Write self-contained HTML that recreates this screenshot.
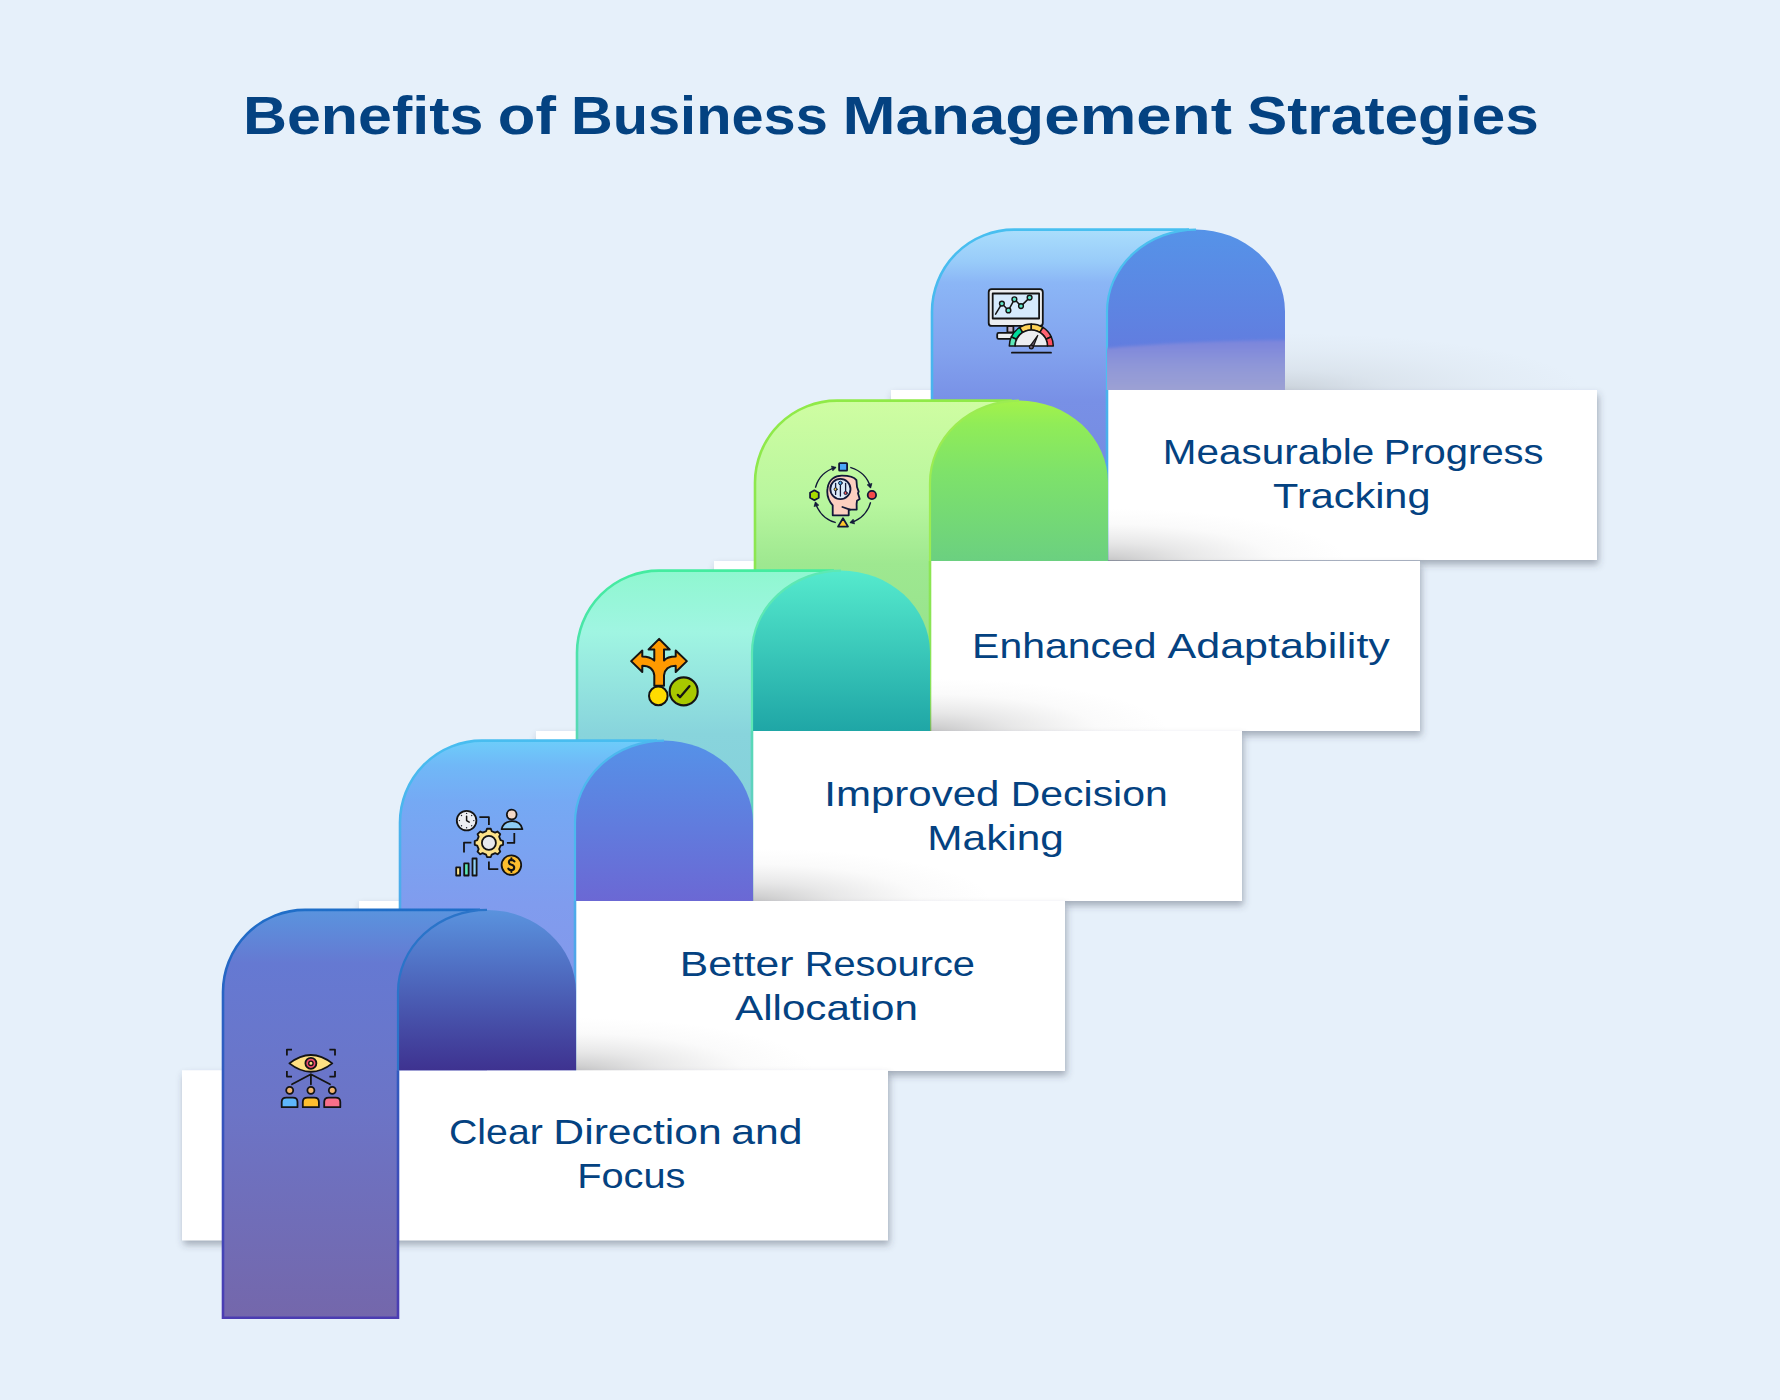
<!DOCTYPE html>
<html><head><meta charset="utf-8"><style>
html,body{margin:0;padding:0;background:#e6f0fa;}
body{width:1780px;height:1400px;overflow:hidden;font-family:"Liberation Sans",sans-serif;}
svg{display:block;}
</style></head><body>
<svg width="1780" height="1400" viewBox="0 0 1780 1400">
<defs>
<filter id="soft" x="-10%" y="-10%" width="120%" height="120%"><feGaussianBlur stdDeviation="1.6"/></filter>
<filter id="cardsh" x="-5%" y="-10%" width="110%" height="130%"><feDropShadow dx="1.5" dy="4.5" stdDeviation="3.8" flood-color="#394150" flood-opacity="0.38"/></filter>
<radialGradient id="upsh" cx="0" cy="1" r="1" gradientTransform="translate(0,0) scale(1,0.25)" gradientUnits="objectBoundingBox"><stop offset="0" stop-color="#7a8498" stop-opacity="0.42"/><stop offset="0.5" stop-color="#8a94a8" stop-opacity="0.12"/><stop offset="1" stop-color="#8a94a8" stop-opacity="0"/></radialGradient>
<linearGradient id="gloss" gradientUnits="userSpaceOnUse" x1="0" y1="340" x2="0" y2="390"><stop offset="0" stop-color="#7a84dc"/><stop offset="0.5" stop-color="#8e96d8"/><stop offset="1" stop-color="#9ca1d3"/></linearGradient>
<linearGradient id="colg0" gradientUnits="userSpaceOnUse" x1="0" y1="909.9" x2="0" y2="1317.7"><stop offset="0" stop-color="#5a94de"/><stop offset="0.13" stop-color="#6579d2"/><stop offset="0.5" stop-color="#6c74c6"/><stop offset="1" stop-color="#7467ab"/></linearGradient>
<linearGradient id="cols0" gradientUnits="userSpaceOnUse" x1="0" y1="909.9" x2="0" y2="1317.7"><stop offset="0" stop-color="#1f6ec8"/><stop offset="1" stop-color="#4b3cb2"/></linearGradient>
<linearGradient id="darkg0" gradientUnits="userSpaceOnUse" x1="0" y1="909.9" x2="0" y2="1070.3"><stop offset="0" stop-color="#5a93de"/><stop offset="0.35" stop-color="#5070c4"/><stop offset="1" stop-color="#3e3290"/></linearGradient>
<linearGradient id="colg1" gradientUnits="userSpaceOnUse" x1="0" y1="740.6" x2="0" y2="1148.4"><stop offset="0" stop-color="#6dcdfa"/><stop offset="0.06" stop-color="#70b8f7"/><stop offset="0.15" stop-color="#75a9f4"/><stop offset="0.4" stop-color="#809cee"/><stop offset="1" stop-color="#8a90e4"/></linearGradient>
<linearGradient id="cols1" gradientUnits="userSpaceOnUse" x1="0" y1="740.6" x2="0" y2="1148.4"><stop offset="0" stop-color="#48bdf0"/><stop offset="1" stop-color="#5590e2"/></linearGradient>
<linearGradient id="darkg1" gradientUnits="userSpaceOnUse" x1="0" y1="740.6" x2="0" y2="901"><stop offset="0" stop-color="#5592e8"/><stop offset="1" stop-color="#6b68d4"/></linearGradient>
<linearGradient id="colg2" gradientUnits="userSpaceOnUse" x1="0" y1="570.6" x2="0" y2="978.4000000000001"><stop offset="0" stop-color="#8ff7d0"/><stop offset="0.15" stop-color="#a0f5e2"/><stop offset="0.4" stop-color="#88d4dc"/><stop offset="1" stop-color="#80c8d8"/></linearGradient>
<linearGradient id="cols2" gradientUnits="userSpaceOnUse" x1="0" y1="570.6" x2="0" y2="978.4000000000001"><stop offset="0" stop-color="#44eca0"/><stop offset="1" stop-color="#74bcd8"/></linearGradient>
<linearGradient id="darkg2" gradientUnits="userSpaceOnUse" x1="0" y1="570.6" x2="0" y2="731"><stop offset="0" stop-color="#55eacd"/><stop offset="1" stop-color="#1fa6a6"/></linearGradient>
<linearGradient id="colg3" gradientUnits="userSpaceOnUse" x1="0" y1="400.6" x2="0" y2="808.4000000000001"><stop offset="0" stop-color="#cffda2"/><stop offset="0.25" stop-color="#b8f69e"/><stop offset="0.4" stop-color="#9ee890"/><stop offset="1" stop-color="#88d888"/></linearGradient>
<linearGradient id="cols3" gradientUnits="userSpaceOnUse" x1="0" y1="400.6" x2="0" y2="808.4000000000001"><stop offset="0" stop-color="#90ea48"/><stop offset="1" stop-color="#86e060"/></linearGradient>
<linearGradient id="darkg3" gradientUnits="userSpaceOnUse" x1="0" y1="400.6" x2="0" y2="561"><stop offset="0" stop-color="#a4f24a"/><stop offset="0.15" stop-color="#90ec58"/><stop offset="0.45" stop-color="#7ee26a"/><stop offset="1" stop-color="#6bd080"/></linearGradient>
<linearGradient id="colg4" gradientUnits="userSpaceOnUse" x1="0" y1="229.6" x2="0" y2="637.4"><stop offset="0" stop-color="#aadefc"/><stop offset="0.08" stop-color="#98cbf9"/><stop offset="0.13" stop-color="#8bb6f6"/><stop offset="0.3" stop-color="#82a2ee"/><stop offset="0.42" stop-color="#7890e6"/><stop offset="1" stop-color="#7080d8"/></linearGradient>
<linearGradient id="cols4" gradientUnits="userSpaceOnUse" x1="0" y1="229.6" x2="0" y2="637.4"><stop offset="0" stop-color="#48bff0"/><stop offset="1" stop-color="#4aa0e8"/></linearGradient>
<linearGradient id="darkg4" gradientUnits="userSpaceOnUse" x1="0" y1="229.6" x2="0" y2="390"><stop offset="0" stop-color="#5593e8"/><stop offset="1" stop-color="#6675dc"/></linearGradient>
</defs>
<rect width="1780" height="1400" fill="#e6f0fa"/>
<rect x="891" y="390" width="706" height="170" fill="#fff" filter="url(#cardsh)"/>
<radialGradient id="upsh4" gradientUnits="userSpaceOnUse" cx="1285" cy="390" r="300" gradientTransform="translate(1285,390) scale(1,0.19) translate(-1285,-390)"><stop offset="0" stop-color="#5c5c5e" stop-opacity="0.2"/><stop offset="0.35" stop-color="#6c6c6e" stop-opacity="0.09"/><stop offset="0.7" stop-color="#7c7c7e" stop-opacity="0.035"/><stop offset="1" stop-color="#7c7c7e" stop-opacity="0"/></radialGradient>
<rect x="1285" y="330" width="310" height="60" fill="url(#upsh4)"/>
<path d="M932,637.4 L932,311.6 A82,82 0 0 1 1014,229.6 L1196,229.6 L1196,390 L1107,390 L1107,637.4 Z" fill="url(#colg4)"/>
<path d="M1107,390 L1107,637.4 L932,637.4 L932,311.6 A82,82 0 0 1 1014,229.6 L1189,229.6" fill="none" stroke="url(#cols4)" stroke-width="2.6"/>
<path d="M1107,390 L1107,311.6 A89.0,82 0 0 1 1196.0,229.6 A89.0,82 0 0 1 1285,311.6 L1285,390 Z" fill="url(#darkg4)"/>
<path d="M1107,390 L1107,311.6 A89.0,82 0 0 1 1196.0,229.6" fill="none" stroke="#4cbfef" stroke-width="2.2"/>
<clipPath id="dclip4"><rect x="1107" y="229.6" width="178" height="160.4"/></clipPath>
<g clip-path="url(#dclip4)"><ellipse cx="1300" cy="406" rx="400" ry="66" fill="url(#gloss)" filter="url(#soft)"/></g>
<rect x="714" y="561" width="706" height="170" fill="#fff" filter="url(#cardsh)"/>
<radialGradient id="upsh3" gradientUnits="userSpaceOnUse" cx="1108" cy="561" r="240" gradientTransform="translate(1108,561) scale(1,0.22) translate(-1108,-561)"><stop offset="0" stop-color="#5c5c5e" stop-opacity="0.34"/><stop offset="0.35" stop-color="#6c6c6e" stop-opacity="0.16"/><stop offset="0.7" stop-color="#7c7c7e" stop-opacity="0.035"/><stop offset="1" stop-color="#7c7c7e" stop-opacity="0"/></radialGradient>
<rect x="1108" y="501" width="250" height="60" fill="url(#upsh3)"/>
<path d="M755,808.4000000000001 L755,482.6 A82,82 0 0 1 837,400.6 L1019,400.6 L1019,561 L930,561 L930,808.4000000000001 Z" fill="url(#colg3)"/>
<path d="M930,561 L930,808.4000000000001 L755,808.4000000000001 L755,482.6 A82,82 0 0 1 837,400.6 L1012,400.6" fill="none" stroke="url(#cols3)" stroke-width="2.6"/>
<path d="M930,561 L930,482.6 A89.0,82 0 0 1 1019.0,400.6 A89.0,82 0 0 1 1108,482.6 L1108,561 Z" fill="url(#darkg3)"/>
<path d="M930,561 L930,482.6 A89.0,82 0 0 1 1019.0,400.6" fill="none" stroke="#9cec52" stroke-width="2.2"/>
<rect x="536" y="731" width="706" height="170" fill="#fff" filter="url(#cardsh)"/>
<radialGradient id="upsh2" gradientUnits="userSpaceOnUse" cx="930" cy="731" r="240" gradientTransform="translate(930,731) scale(1,0.22) translate(-930,-731)"><stop offset="0" stop-color="#5c5c5e" stop-opacity="0.34"/><stop offset="0.35" stop-color="#6c6c6e" stop-opacity="0.16"/><stop offset="0.7" stop-color="#7c7c7e" stop-opacity="0.035"/><stop offset="1" stop-color="#7c7c7e" stop-opacity="0"/></radialGradient>
<rect x="930" y="671" width="250" height="60" fill="url(#upsh2)"/>
<path d="M577,978.4000000000001 L577,652.6 A82,82 0 0 1 659,570.6 L841,570.6 L841,731 L752,731 L752,978.4000000000001 Z" fill="url(#colg2)"/>
<path d="M752,731 L752,978.4000000000001 L577,978.4000000000001 L577,652.6 A82,82 0 0 1 659,570.6 L834,570.6" fill="none" stroke="url(#cols2)" stroke-width="2.6"/>
<path d="M752,731 L752,652.6 A89.0,82 0 0 1 841.0,570.6 A89.0,82 0 0 1 930,652.6 L930,731 Z" fill="url(#darkg2)"/>
<path d="M752,731 L752,652.6 A89.0,82 0 0 1 841.0,570.6" fill="none" stroke="#5de8b4" stroke-width="2.2"/>
<rect x="359" y="901" width="706" height="170" fill="#fff" filter="url(#cardsh)"/>
<radialGradient id="upsh1" gradientUnits="userSpaceOnUse" cx="753" cy="901" r="240" gradientTransform="translate(753,901) scale(1,0.22) translate(-753,-901)"><stop offset="0" stop-color="#5c5c5e" stop-opacity="0.34"/><stop offset="0.35" stop-color="#6c6c6e" stop-opacity="0.16"/><stop offset="0.7" stop-color="#7c7c7e" stop-opacity="0.035"/><stop offset="1" stop-color="#7c7c7e" stop-opacity="0"/></radialGradient>
<rect x="753" y="841" width="250" height="60" fill="url(#upsh1)"/>
<path d="M400,1148.4 L400,822.6 A82,82 0 0 1 482,740.6 L664,740.6 L664,901 L575,901 L575,1148.4 Z" fill="url(#colg1)"/>
<path d="M575,901 L575,1148.4 L400,1148.4 L400,822.6 A82,82 0 0 1 482,740.6 L657,740.6" fill="none" stroke="url(#cols1)" stroke-width="2.6"/>
<path d="M575,901 L575,822.6 A89.0,82 0 0 1 664.0,740.6 A89.0,82 0 0 1 753,822.6 L753,901 Z" fill="url(#darkg1)"/>
<path d="M575,901 L575,822.6 A89.0,82 0 0 1 664.0,740.6" fill="none" stroke="#4db8ee" stroke-width="2.2"/>
<rect x="182" y="1070.3" width="706" height="170" fill="#fff" filter="url(#cardsh)"/>
<radialGradient id="upsh0" gradientUnits="userSpaceOnUse" cx="576" cy="1070.3" r="240" gradientTransform="translate(576,1070.3) scale(1,0.22) translate(-576,-1070.3)"><stop offset="0" stop-color="#5c5c5e" stop-opacity="0.34"/><stop offset="0.35" stop-color="#6c6c6e" stop-opacity="0.16"/><stop offset="0.7" stop-color="#7c7c7e" stop-opacity="0.035"/><stop offset="1" stop-color="#7c7c7e" stop-opacity="0"/></radialGradient>
<rect x="576" y="1010.3" width="250" height="60" fill="url(#upsh0)"/>
<path d="M223,1317.7 L223,991.9 A82,82 0 0 1 305,909.9 L487,909.9 L487,1070.3 L398,1070.3 L398,1317.7 Z" fill="url(#colg0)"/>
<path d="M398,1070.3 L398,1317.7 L223,1317.7 L223,991.9 A82,82 0 0 1 305,909.9 L480,909.9" fill="none" stroke="url(#cols0)" stroke-width="2.6"/>
<path d="M398,1070.3 L398,991.9 A89.0,82 0 0 1 487.0,909.9 A89.0,82 0 0 1 576,991.9 L576,1070.3 Z" fill="url(#darkg0)"/>
<path d="M398,1070.3 L398,991.9 A89.0,82 0 0 1 487.0,909.9" fill="none" stroke="#2a74c9" stroke-width="2.2"/>
<g transform="translate(270,1040)" stroke="#141414" stroke-width="1.8" stroke-linejoin="round" stroke-linecap="round">
<path d="M16.9,15.4 V9.7 H22 M59.4,9.7 H65 V15.4 M16.9,31.1 V36.6 H22 M59.4,36.6 H65 V31.1" fill="none" stroke-linecap="butt"/>
<path d="M19.4,23.4 Q40.9,6.6 62.3,23.4 Q40.9,40.2 19.4,23.4 Z" fill="#ffe083"/>
<circle cx="40.9" cy="23.3" r="5.5" fill="#ef4a6e"/><circle cx="40.9" cy="23.3" r="2.2" fill="#ffe083" stroke-width="1.4"/>
<path d="M40.9,34.3 L22,44.3 M40.9,34.3 V44.3 M40.9,34.3 L60,44.3" fill="none"/>
<circle cx="19.7" cy="50.3" r="3.5" fill="#f2b56e"/>
<circle cx="40.9" cy="50.3" r="3.5" fill="#f2b56e"/>
<circle cx="62.3" cy="50.3" r="3.5" fill="#f2b56e"/>
<path d="M11.700000000000001,67.2 V62 Q11.700000000000001,57.7 16.4,57.7 H22.8 Q27.5,57.7 27.5,62 V67.2 Z" fill="#5eb6fb"/>
<path d="M32.8,67.2 V62 Q32.8,57.7 37.5,57.7 H44.2 Q48.900000000000006,57.7 48.900000000000006,62 V67.2 Z" fill="#ffbe2e"/>
<path d="M54.199999999999996,67.2 V62 Q54.199999999999996,57.7 58.9,57.7 H65.6 Q70.3,57.7 70.3,62 V67.2 Z" fill="#f86f8a"/>
</g>
<g transform="translate(448,800)" stroke="#141414" stroke-width="1.8" stroke-linejoin="round" stroke-linecap="round">
<circle cx="18.6" cy="20.6" r="9.8" fill="#eceef2"/>
<circle cx="25.80" cy="20.60" r="0.7" fill="#1b1f2e" stroke="none"/>
<circle cx="23.69" cy="25.69" r="0.7" fill="#1b1f2e" stroke="none"/>
<circle cx="18.60" cy="27.80" r="0.7" fill="#1b1f2e" stroke="none"/>
<circle cx="13.51" cy="25.69" r="0.7" fill="#1b1f2e" stroke="none"/>
<circle cx="11.40" cy="20.60" r="0.7" fill="#1b1f2e" stroke="none"/>
<circle cx="13.51" cy="15.51" r="0.7" fill="#1b1f2e" stroke="none"/>
<circle cx="18.60" cy="13.40" r="0.7" fill="#1b1f2e" stroke="none"/>
<circle cx="23.69" cy="15.51" r="0.7" fill="#1b1f2e" stroke="none"/>
<path d="M18.6,16.2 V20.6 L21.2,22.2" fill="none" stroke-width="1.5"/>
<path d="M31.4,17.1 H40.9 V24.9 M66.3,33.1 V42.9 H58.9 M23.4,42.6 H16 V52.6 M40.9,61.4 V69.1 H50.3" fill="none" stroke-linecap="butt"/>
<circle cx="63.7" cy="14.6" r="4.9" fill="#f3d8c8"/>
<path d="M53.6,29.2 Q55.5,21.2 64.1,21.2 Q72.5,21.2 74.4,29.2 Z" fill="#8ecdf6"/>
<path d="M52.57,40.10 L55.07,41.00 L55.07,44.80 L52.57,45.70 L51.13,49.17 L52.27,51.58 L49.58,54.27 L47.17,53.13 L43.70,54.57 L42.80,57.07 L39.00,57.07 L38.10,54.57 L34.63,53.13 L32.22,54.27 L29.53,51.58 L30.67,49.17 L29.23,45.70 L26.73,44.80 L26.73,41.00 L29.23,40.10 L30.67,36.63 L29.53,34.22 L32.22,31.53 L34.63,32.67 L38.10,31.23 L39.00,28.73 L42.80,28.73 L43.70,31.23 L47.17,32.67 L49.58,31.53 L52.27,34.22 L51.13,36.63 Z" fill="#fde38a"/>
<circle cx="40.9" cy="42.9" r="7" fill="#e8eaee"/>
<rect x="8.2" y="67.4" width="3.9" height="8.1" fill="#fde58a"/>
<rect x="16.2" y="63.4" width="4.4" height="12.1" fill="#5de8b8"/>
<rect x="24.5" y="58.5" width="4.1" height="17" fill="#8ed0f8"/>
<circle cx="63.4" cy="65.1" r="9.8" fill="#fdbe2e"/>
<path d="M66.4,61.4 Q65.2,59.9 63.4,59.9 Q60.8,60 60.9,62.3 Q61.1,64.2 63.6,64.8 Q66.3,65.5 66.2,67.8 Q66,70.1 63.3,70.1 Q61.3,70.1 60.3,68.6 M63.4,58.2 V59.9 M63.4,70.1 V71.9" fill="none" stroke-width="2.1"/>
</g>
<g transform="translate(624,632)" stroke="#141414" stroke-width="1.8" stroke-linejoin="round" stroke-linecap="round">
<path d="M35.14,6.86 45.71,17.43 40.00,17.43 40.00,28.57 Q43.43,24.57 51.71,24.57 L51.71,18.57 62.86,29.14 51.71,40.00 51.71,33.71 Q41.14,33.71 40.00,43.43 L40.00,53.71 30.29,53.71 30.29,43.43 Q29.14,33.71 18.29,33.71 L18.29,40.00 7.14,29.14 18.29,18.57 18.29,24.57 Q25.71,24.57 30.29,28.57 L30.29,17.43 24.57,17.43 Z" fill="#ff9a00" stroke-width="2.0"/>
<circle cx="34.3" cy="63.9" r="9.3" fill="#ffdc00" stroke-width="2.0"/>
<circle cx="59.7" cy="59.4" r="14.0" fill="#a8c800" stroke-width="2.1"/>
<path d="M53.8,62.9 L56.0,65.2 L65.4,54.2" fill="none" stroke-width="2.3"/>
</g>
<g transform="translate(803,455)" stroke="#111838" stroke-width="1.8" stroke-linejoin="round" stroke-linecap="round">
<path d="M12.60,32.14 A28.5,28.5 0 0 1 32.14,12.60" fill="none" stroke-width="1.5"/>
<path d="M28.84,11.22 L32.91,12.38 L30.07,15.53 Z" fill="#111838" stroke-width="0.8"/>
<path d="M47.86,12.60 A28.5,28.5 0 0 1 67.40,32.14" fill="none" stroke-width="1.5"/>
<path d="M68.78,28.84 L67.62,32.91 L64.47,30.07 Z" fill="#111838" stroke-width="0.8"/>
<path d="M67.40,47.86 A28.5,28.5 0 0 1 47.86,67.40" fill="none" stroke-width="1.5"/>
<path d="M51.16,68.78 L47.09,67.62 L49.93,64.47 Z" fill="#111838" stroke-width="0.8"/>
<path d="M32.14,67.40 A28.5,28.5 0 0 1 12.60,47.86" fill="none" stroke-width="1.5"/>
<path d="M11.22,51.16 L12.38,47.09 L15.53,49.93 Z" fill="#111838" stroke-width="0.8"/>
<rect x="36.1" y="8.1" width="8" height="7.6" rx="0.6" fill="#4aa8f8"/>
<circle cx="68.9" cy="40" r="4.2" fill="#f54a4a"/>
<polygon points="11.40,45.30 7.07,42.80 7.07,37.80 11.40,35.30 15.73,37.80 15.73,42.80" fill="#a8dc00"/>
<path d="M40,63.2 L45,71.6 L35,71.6 Z" fill="#ffc72c"/>
<path d="M29.71,60.29 V50.29 C25.71,45.71 23.43,40.00 24.57,33.14 C25.71,24.57 32.00,20.57 38.86,20.57 C45.71,20.57 51.43,22.29 53.43,25.14 L54.00,32.00 L55.71,36.57 L54.97,38.17 L56.69,44.00 L54.00,45.71 L53.60,49.14 L53.71,54.57 L45.71,54.57 V60.29 Z" fill="#fccfc0"/>
<path d="M39.4,52 L47,54.6" fill="none"/>
<circle cx="37.4" cy="34" r="10.1" fill="#dcebfa"/>
<path d="M32.6,28.3 V39.4 M37.4,29.8 V41.1 M42.6,28.3 V36.2" fill="none" stroke-width="1.3"/>
<circle cx="32.6" cy="34.3" r="1.5" fill="#ffd23a" stroke-width="1"/>
<circle cx="37.4" cy="28" r="1.8" fill="#4ab0f0" stroke-width="1"/>
<circle cx="42.6" cy="38" r="1.6" fill="#f55050" stroke-width="1"/>
</g>
<g transform="translate(981,281)" stroke="#141414" stroke-width="1.8" stroke-linejoin="round" stroke-linecap="round">
<rect x="7.7" y="8.2" width="54.1" height="36.7" rx="3" fill="#eceef0"/>
<rect x="11.7" y="12.5" width="46.4" height="25" fill="#d6eafc"/>
<path d="M14.6,33.1 L20.9,22.6 L27.4,29.4 L33.4,18.3 L40,25.1 L48.6,16.6" fill="none" stroke-width="1.5"/>
<circle cx="20.9" cy="22.6" r="2.4" fill="#5ee8c8" stroke-width="1.4"/>
<circle cx="27.4" cy="29.4" r="2.4" fill="#5ee8c8" stroke-width="1.4"/>
<circle cx="33.4" cy="18.3" r="2.4" fill="#5ee8c8" stroke-width="1.4"/>
<circle cx="40" cy="25.1" r="2.4" fill="#5ee8c8" stroke-width="1.4"/>
<circle cx="48.6" cy="16.6" r="2.4" fill="#5ee8c8" stroke-width="1.4"/>
<rect x="26.4" y="45" width="6" height="6.4" fill="#c4b4c8"/>
<rect x="16.2" y="51.9" width="18" height="6" rx="1.5" fill="#eceef0"/>
<path d="M28.30,65.10 A22.0,22.0 0 0 1 30.36,55.80 L35.62,58.25 A16.2,16.2 0 0 0 34.10,65.10 Z" fill="#5de8b8" stroke-width="1.5"/>
<path d="M30.36,55.80 A22.0,22.0 0 0 1 38.64,46.44 L41.72,51.36 A16.2,16.2 0 0 0 35.62,58.25 Z" fill="#00dc9a" stroke-width="1.5"/>
<path d="M38.64,46.44 A22.0,22.0 0 0 1 50.30,43.10 L50.30,48.90 A16.2,16.2 0 0 0 41.72,51.36 Z" fill="#ffd257" stroke-width="1.5"/>
<path d="M50.30,43.10 A22.0,22.0 0 0 1 61.96,46.44 L58.88,51.36 A16.2,16.2 0 0 0 50.30,48.90 Z" fill="#ffd257" stroke-width="1.5"/>
<path d="M61.96,46.44 A22.0,22.0 0 0 1 70.24,55.80 L64.98,58.25 A16.2,16.2 0 0 0 58.88,51.36 Z" fill="#ff6372" stroke-width="1.5"/>
<path d="M70.24,55.80 A22.0,22.0 0 0 1 72.30,65.10 L66.50,65.10 A16.2,16.2 0 0 0 64.98,58.25 Z" fill="#ff5060" stroke-width="1.5"/>
<path d="M34.099999999999994,65.1 A16.2,16.2 0 0 1 66.5,65.1 Z" fill="#eceef0" stroke-width="1.5"/>
<path d="M48.699999999999996,65.69999999999999 L56.8,54.4 L52.099999999999994,66.3 Z" fill="#6a5a70" stroke-width="1.2"/>
<circle cx="50.3" cy="66.0" r="1.9" fill="#6a5a70" stroke-width="1.2"/>
<path d="M30.9,71.7 H70" fill="none"/>
</g>
<text x="242.9" y="134" font-family="Liberation Sans, sans-serif" font-weight="bold" font-size="54" fill="#044281" textLength="240.6" lengthAdjust="spacingAndGlyphs">Benefits</text>
<text x="497.8" y="134" font-family="Liberation Sans, sans-serif" font-weight="bold" font-size="54" fill="#044281" textLength="58.1" lengthAdjust="spacingAndGlyphs">of</text>
<text x="571.0" y="134" font-family="Liberation Sans, sans-serif" font-weight="bold" font-size="54" fill="#044281" textLength="256.8" lengthAdjust="spacingAndGlyphs">Business</text>
<text x="842.5" y="134" font-family="Liberation Sans, sans-serif" font-weight="bold" font-size="54" fill="#044281" textLength="389.4" lengthAdjust="spacingAndGlyphs">Management</text>
<text x="1247.0" y="134" font-family="Liberation Sans, sans-serif" font-weight="bold" font-size="54" fill="#044281" textLength="291.8" lengthAdjust="spacingAndGlyphs">Strategies</text>
<text x="448.96" y="1143.9" font-family="Liberation Sans, sans-serif" font-size="35" fill="#044281" textLength="93.86" lengthAdjust="spacingAndGlyphs">Clear</text>
<text x="553.34" y="1143.9" font-family="Liberation Sans, sans-serif" font-size="35" fill="#044281" textLength="168.43" lengthAdjust="spacingAndGlyphs">Direction</text>
<text x="731.36" y="1143.9" font-family="Liberation Sans, sans-serif" font-size="35" fill="#044281" textLength="71.28" lengthAdjust="spacingAndGlyphs">and</text>
<text x="577.19" y="1187.9" font-family="Liberation Sans, sans-serif" font-size="35" fill="#044281" textLength="108.3" lengthAdjust="spacingAndGlyphs">Focus</text>
<text x="679.75" y="975.9" font-family="Liberation Sans, sans-serif" font-size="35" fill="#044281" textLength="113.73" lengthAdjust="spacingAndGlyphs">Better</text>
<text x="804.69" y="975.9" font-family="Liberation Sans, sans-serif" font-size="35" fill="#044281" textLength="170.25" lengthAdjust="spacingAndGlyphs">Resource</text>
<text x="735.1" y="1019.6" font-family="Liberation Sans, sans-serif" font-size="35" fill="#044281" textLength="182.73" lengthAdjust="spacingAndGlyphs">Allocation</text>
<text x="824.3" y="805.7" font-family="Liberation Sans, sans-serif" font-size="35" fill="#044281" textLength="175.19" lengthAdjust="spacingAndGlyphs">Improved</text>
<text x="1010.79" y="805.7" font-family="Liberation Sans, sans-serif" font-size="35" fill="#044281" textLength="156.92" lengthAdjust="spacingAndGlyphs">Decision</text>
<text x="927.37" y="849.9" font-family="Liberation Sans, sans-serif" font-size="35" fill="#044281" textLength="136.44" lengthAdjust="spacingAndGlyphs">Making</text>
<text x="972.09" y="657.9" font-family="Liberation Sans, sans-serif" font-size="35" fill="#044281" textLength="184.43" lengthAdjust="spacingAndGlyphs">Enhanced</text>
<text x="1167.6" y="657.9" font-family="Liberation Sans, sans-serif" font-size="35" fill="#044281" textLength="222.24" lengthAdjust="spacingAndGlyphs">Adaptability</text>
<text x="1162.83" y="463.9" font-family="Liberation Sans, sans-serif" font-size="35" fill="#044281" textLength="211.35" lengthAdjust="spacingAndGlyphs">Measurable</text>
<text x="1383.67" y="463.9" font-family="Liberation Sans, sans-serif" font-size="35" fill="#044281" textLength="159.94" lengthAdjust="spacingAndGlyphs">Progress</text>
<text x="1273.12" y="507.9" font-family="Liberation Sans, sans-serif" font-size="35" fill="#044281" textLength="157.36" lengthAdjust="spacingAndGlyphs">Tracking</text>
</svg>
</body></html>
